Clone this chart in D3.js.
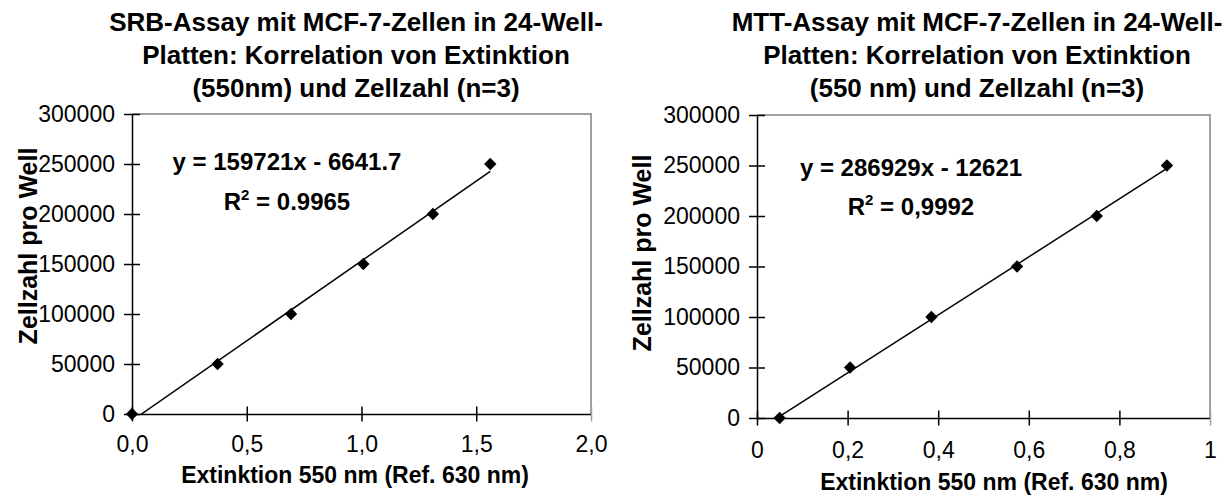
<!DOCTYPE html>
<html>
<head>
<meta charset="utf-8">
<script src="https://cdn.jsdelivr.net/npm/d3@7"></script>
<style>
  body { margin: 0; background: #fff; }
  text { font-family: "Liberation Sans", Arial, sans-serif; fill: #000; }
</style>
</head>
<body>
<div id="chart"></div>
<script>
// values
const cellCounts = [0, 50000, 100000, 150000, 200000, 250000];
const srbExt = [0, 0.373, 0.693, 1.008, 1.311, 1.561];
const mttExt = [0.05, 0.2055, 0.385, 0.574, 0.75, 0.905];

const srbFit = [159721, -6641.7]; // slope, intercept
const mttFit = [286929, -12621];

const yTicks = [0, 50000, 100000, 150000, 200000, 250000, 300000];
const srbXTicks = [0, 0.5, 1.0, 1.5, 2.0];
const srbXLabels = ["0,0", "0,5", "1,0", "1,5", "2,0"];
const mttXTicks = [0, 0.2, 0.4, 0.6, 0.8, 1];
const mttXLabels = ["0", "0,2", "0,4", "0,6", "0,8", "1"];

const srbTitle = ["SRB-Assay mit MCF-7-Zellen in 24-Well-", "Platten: Korrelation von Extinktion", "(550nm) und Zellzahl (n=3)"];
const mttTitle = ["MTT-Assay mit MCF-7-Zellen in 24-Well-", "Platten: Korrelation von Extinktion", "(550 nm) und Zellzahl (n=3)"];
const srbEq = ["y = 159721x - 6641.7", "0.9965"];
const mttEq = ["y = 286929x - 12621", "0,9992"];

const xTitle = "Extinktion 550 nm (Ref. 630 nm)";
const yTitle = "Zellzahl pro Well";

const W = 1225, H = 495;
const svg = d3.select("#chart").append("svg").attr("width", W).attr("height", H);

const panels = [
  {
    id: "srb", clipX: 0, clipW: 612,
    xs: srbExt, ys: cellCounts, fit: srbFit,
    xDomain: [0, 2], xRange: [132, 591], yRange: [414, 114],
    xTicks: srbXTicks, xLabels: srbXLabels,
    title: srbTitle, titleX: 356, titleY: [31, 64, 97],
    eq: srbEq, eqX: 287, eqY: [170, 210],
    xTitleX: 355, xTitleY: 483, labelY: 452,
    yTitleX: 37, yTitleY: 246
  },
  {
    id: "mtt", clipX: 612, clipW: 613,
    xs: mttExt, ys: cellCounts, fit: mttFit,
    xDomain: [0, 1], xRange: [757, 1210], yRange: [418, 115],
    xTicks: mttXTicks, xLabels: mttXLabels,
    title: mttTitle, titleX: 977, titleY: [31, 64, 97],
    eq: mttEq, eqX: 911, eqY: [176, 215],
    xTitleX: 994, xTitleY: 490, labelY: 458,
    yTitleX: 651, yTitleY: 253
  }
];

function drawPanel(p) {
  const clipId = "clip-" + p.id;
  svg.append("clipPath").attr("id", clipId + "-all")
    .append("rect").attr("x", p.clipX).attr("y", 0).attr("width", p.clipW).attr("height", H);

  const g = svg.append("g").attr("clip-path", `url(#${clipId}-all)`);

  const x = d3.scaleLinear().domain(p.xDomain).range(p.xRange);
  const y = d3.scaleLinear().domain([0, 300000]).range(p.yRange);

  // plot area border (top/right gray)
  g.append("path")
    .attr("d", `M${x.range()[0]},${y(300000)}H${x.range()[1]}V${y(0)}`)
    .attr("fill", "none").attr("stroke", "#a0a0a0").attr("stroke-width", 2);

  // y axis: cross ticks
  const yAxis = d3.axisLeft(y).tickValues(yTicks).tickSize(0).tickPadding(17)
    .tickFormat(d3.format("d"));
  const ya = g.append("g").attr("transform", `translate(${x.range()[0]},0)`).call(yAxis);
  ya.select(".domain").attr("stroke", "#000").attr("stroke-width", 1.5);
  ya.selectAll(".tick line").attr("x1", -8).attr("x2", 8).attr("stroke", "#000").attr("stroke-width", 1.5);
  ya.selectAll(".tick text").style("font-size", "23px").style("font-family", "Liberation Sans, Arial, sans-serif");

  // x axis: cross ticks
  const xAxis = d3.axisBottom(x).tickValues(p.xTicks).tickSize(0)
    .tickFormat((d, i) => p.xLabels[i]);
  const xa = g.append("g").attr("transform", `translate(0,${y(0)})`).call(xAxis);
  xa.select(".domain").attr("stroke", "#000").attr("stroke-width", 1.5);
  xa.selectAll(".tick line").attr("y1", -7.5).attr("y2", 7.5).attr("stroke", "#000").attr("stroke-width", 1.5);
  xa.selectAll(".tick text")
    .attr("y", p.labelY - y(0)).attr("dy", null)
    .style("font-size", "23px").style("font-family", "Liberation Sans, Arial, sans-serif");
  // last tick sits on the gray border
  xa.selectAll(".tick line").filter(d => d === p.xDomain[1]).attr("stroke", "#a0a0a0");

  // trendline, clipped to the plot area
  svg.append("clipPath").attr("id", clipId)
    .append("rect")
    .attr("x", x.range()[0]).attr("y", y(300000))
    .attr("width", x.range()[1] - x.range()[0]).attr("height", y(0) - y(300000));
  const xMin = d3.min(p.xs), xMax = d3.max(p.xs);
  const fitLine = d3.line().x(d => x(d)).y(d => y(p.fit[0] * d + p.fit[1]));
  g.append("g").attr("clip-path", `url(#${clipId})`)
    .append("path").datum([xMin, xMax])
    .attr("d", fitLine).attr("fill", "none").attr("stroke", "#000").attr("stroke-width", 1.5);

  // markers
  const diamond = d3.symbol().type(d3.symbolSquare).size(76);
  g.selectAll(".pt").data(p.xs.map((v, i) => [v, p.ys[i]])).join("path")
    .attr("class", "pt")
    .attr("d", diamond)
    .attr("transform", d => `translate(${x(d[0])},${y(d[1])}) rotate(45)`)
    .attr("fill", "#000");

  // title
  g.selectAll(".title").data(p.title).join("text")
    .attr("class", "title")
    .attr("x", p.titleX).attr("y", (d, i) => p.titleY[i])
    .attr("text-anchor", "middle")
    .style("font-size", "26px").style("font-weight", "bold")
    .text(d => d);

  // equation and R^2
  g.append("text").attr("x", p.eqX).attr("y", p.eqY[0]).attr("text-anchor", "middle")
    .style("font-size", "24px").style("font-weight", "bold").text(p.eq[0]);
  const r2 = g.append("text").attr("x", p.eqX).attr("y", p.eqY[1]).attr("text-anchor", "middle")
    .style("font-size", "24px").style("font-weight", "bold");
  r2.append("tspan").text("R");
  r2.append("tspan").attr("dy", -10).style("font-size", "15px").text("2");
  r2.append("tspan").attr("dy", 10).text(" = " + p.eq[1]);

  // axis titles
  g.append("text").attr("x", p.xTitleX).attr("y", p.xTitleY).attr("text-anchor", "middle")
    .style("font-size", "23px").style("font-weight", "bold").text(xTitle);
  g.append("text")
    .attr("transform", `translate(${p.yTitleX},${p.yTitleY}) rotate(-90)`)
    .attr("text-anchor", "middle")
    .style("font-size", "25px").style("font-weight", "bold").text(yTitle);
}

panels.forEach(drawPanel);
</script>
</body>
</html>
